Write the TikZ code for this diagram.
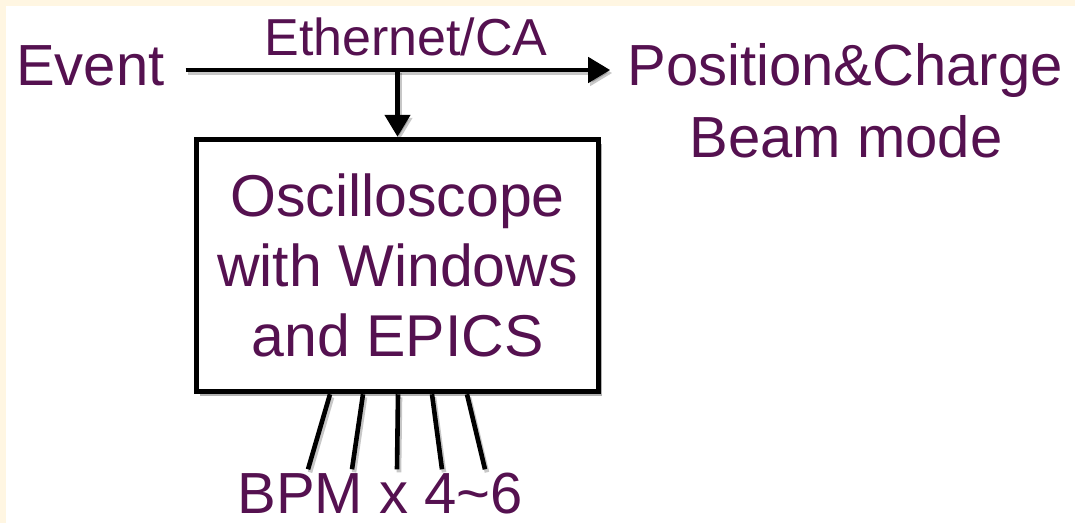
\documentclass[tikz,border=0pt]{standalone}
\usepackage{fontspec}
\setmainfont{Liberation Sans}
\usetikzlibrary{arrows.meta,calc,shadows}
\definecolor{txt}{RGB}{85,17,80}
\definecolor{cream}{RGB}{255,246,226}
\begin{document}
\begin{tikzpicture}[x=1pt,y=1pt,
  lbl/.style={text=txt, inner sep=0pt, font=\fontsize{58}{70}\selectfont},
  conn/.style={line width=4.6pt, draw=black,
    preaction={draw=black, opacity=0.22, line width=4.6pt, transform canvas={shift={(2pt,-3pt)}}}},
  arr/.style={line width=4.6pt, draw=black, -{Triangle[length=22pt,width=25pt]},
    preaction={draw=black, opacity=0.22, line width=4.6pt, -{Triangle[length=22pt,width=25pt]}, transform canvas={shift={(2pt,-3pt)}}}},
  box/.style={draw=black, fill=white, line width=5.5pt, text=txt, align=center,
    font=\fontsize{59}{70}\selectfont,
    drop shadow={shadow xshift=3pt, shadow yshift=-4pt, opacity=0.3, fill=black}}]
\fill[cream] (0,0) rectangle (1075,-523);
\fill[white] (6,-6) rectangle (1075,-523);
\useasboundingbox (0,0) rectangle (1075,-523);

\node[lbl, anchor=base west] (event) at (16,-85) {Event};
\node[lbl, anchor=base, font=\fontsize{52}{60}\selectfont] (eth) at (406,-55) {Ethernet/CA};
\node[lbl, anchor=base] (pos) at (845,-85) {Position\&Charge};
\node[lbl, anchor=base] (beam) at (846,-157) {Beam mode};
\node[box, minimum width=402pt, minimum height=252pt] (osc) at (397.5,-265.5)
  {Oscilloscope\\with Windows\\and EPICS};
\node[lbl, anchor=base] (bpm) at (380,-513) {BPM x 4\textasciitilde 6};

\coordinate (j) at (397.5,-70);
\draw[arr] ($(event.east |- j)+(21,0)$) -- ($(pos.west |- j)+(-17,0)$);
\draw[arr] (j) -- (osc.north);
\foreach \a/\b in {-67.5/-72, -34.5/-28, 0.5/17, 34.5/62, 69.5/105}
  \draw[conn] ($(osc.south)+(\a,0)$) -- ($(bpm.north)+(\b,3)$);
\end{tikzpicture}
\end{document}
